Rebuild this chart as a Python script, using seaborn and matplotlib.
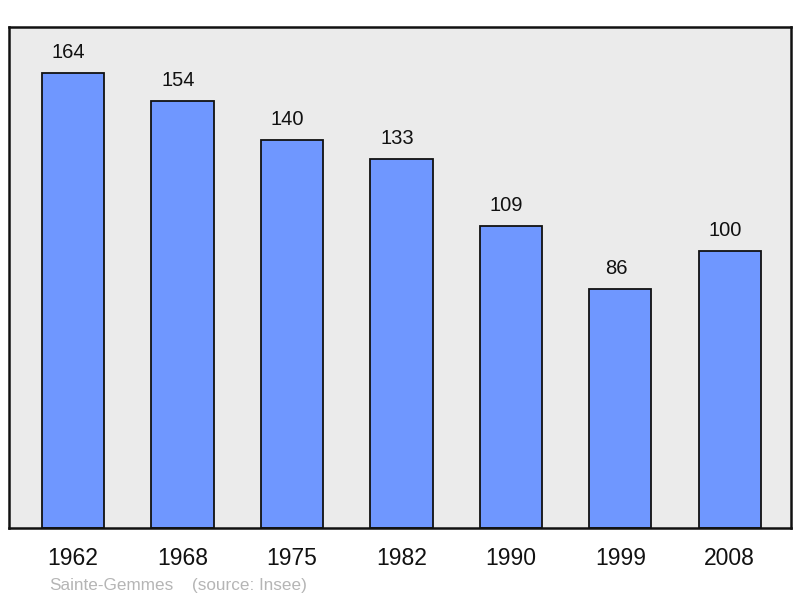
import matplotlib
matplotlib.use('Agg')
import matplotlib.pyplot as plt
import seaborn as sns
import pandas as pd

# Данные
years = ['1962', '1968', '1975', '1982', '1990', '1999', '2008']
population = [164, 154, 140, 133, 109, 86, 100]

df = pd.DataFrame({'Année': years, 'Population': population})

sns.set_style('white')
plt.rcParams['font.family'] = ['Liberation Sans', 'DejaVu Sans']

fig = plt.figure(figsize=(8, 5.98), dpi=100)
ax = fig.add_axes([9 / 800, 1 - 528 / 598, 782 / 800, 501 / 598])
ax.set_facecolor('#ebebeb')

sns.barplot(data=df, x='Année', y='Population', color='#6f97ff', saturation=1,
            width=0.57, edgecolor='#111111', linewidth=1.3, ax=ax)

# Подписи значений (чуть левее центра, как в оригинале)
for i, v in enumerate(population):
    ax.text(i - 0.04, v + 5.4, str(v), ha='center', va='baseline', fontsize=14.5, color='#111111')

ax.set_xlim(-0.585, 6.56)
ax.set_ylim(0, 180.6)
ax.set_yticks([])
ax.set_xlabel('')
ax.set_ylabel('')
ax.tick_params(axis='x', length=0, pad=14, labelsize=16.5, colors='#111111')
for s in ax.spines.values():
    s.set_color('#111111')
    s.set_linewidth(1.8)
    s.set_visible(True)

fig.text(49 / 800, 1 - 585.5 / 598, 'Sainte-Gemmes', fontsize=12.3, color='#b5b5b5', va='center')
fig.text(192 / 800, 1 - 585.5 / 598, '(source: Insee)', fontsize=12.3, color='#b5b5b5', va='center')

fig.savefig('out.png', dpi=100, facecolor='white')
